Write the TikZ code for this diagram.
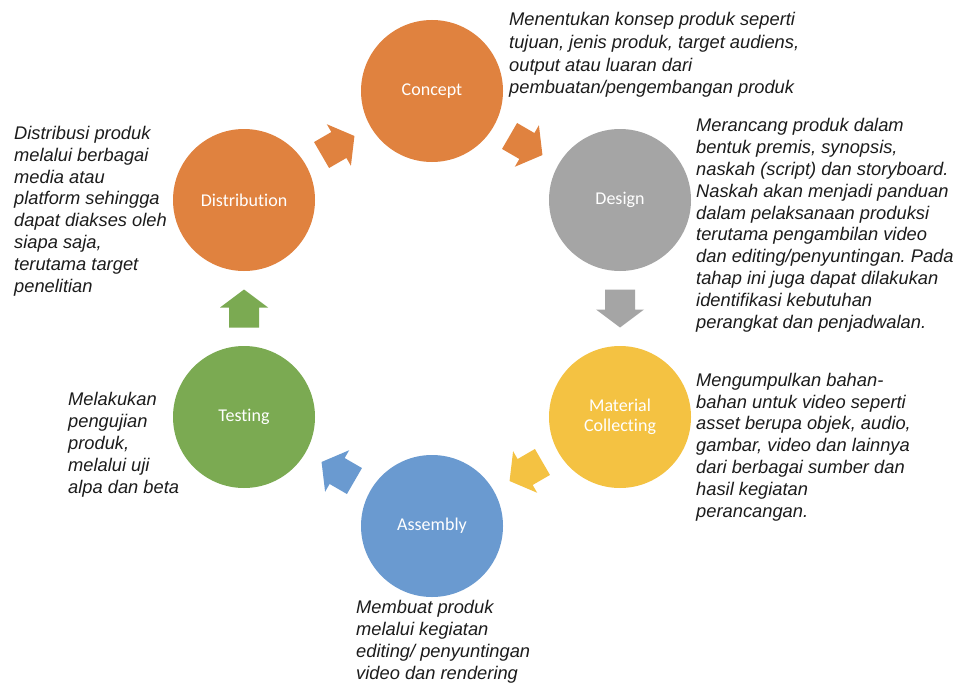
\documentclass[tikz,border=0pt]{standalone}
\usepackage{fontspec}
\setmainfont{Liberation Sans}
\newfontfamily\calibrifont[Ligatures=NoCommon]{Carlito}
\usetikzlibrary{calc}
\definecolor{corange}{HTML}{E0823F}
\definecolor{cgray}{HTML}{A5A5A5}
\definecolor{cyellow}{HTML}{F4C242}
\definecolor{cblue}{HTML}{6A9AD0}
\definecolor{cgreen}{HTML}{7BAA52}
\definecolor{txt}{HTML}{1C1C1C}
\frenchspacing
\begin{document}
\begin{tikzpicture}[x=1pt,y=-1pt,
  stage/.style={circle,minimum size=142pt,inner sep=0pt,text=white,
    font=\calibrifont\fontsize{18}{20}\selectfont,align=center},
  desc/.style={anchor=base west,align=left,inner sep=0pt,text=txt,
    font=\itshape\fontsize{18.3}{21.8}\selectfont},
  blockarrow/.pic={\fill[#1] (-19,-15) -- (1,-15) -- (1,-24) -- (19,0)
    -- (1,24) -- (1,15) -- (-19,15) -- cycle;}
]
\fill[white] (0,0) rectangle (960,682);
\useasboundingbox (0,0) rectangle (960,682);

\node[stage,fill=corange] (concept)  at (432,91)  {Concept};
\node[stage,fill=cgray]   (design)   at (620,200) {Design};
\node[stage,fill=cyellow] (material) at (620,417) {Material\\Collecting};
\node[stage,fill=cblue]   (assembly) at (432,526) {Assembly};
\node[stage,fill=cgreen]  (testing)  at (244,417) {Testing};
\node[stage,fill=corange] (dist)     at (244,200) {Distribution};

\foreach \a/\b/\c in {dist/concept/corange, concept/design/corange,
  design/material/cgray, material/assembly/cyellow,
  assembly/testing/cblue, testing/dist/cgreen}
  \path let \p1=($(\b)-(\a)$), \n1={atan2(\y1,\x1)} in
    ($(\a)!0.5!(\b)$) pic[rotate=\n1] {blockarrow=\c};

% anchors are at the baseline of the last line
\node[desc,font=\itshape\fontsize{18.3}{22.7}\selectfont] (dconcept) at (509,94)
 {Menentukan konsep produk seperti\\
  tujuan, jenis produk, target audiens,\\
  output atau luaran dari\\
  pembuatan/pengembangan produk};
\node[desc] (ddesign) at (696,328) {Merancang produk dalam\\
  bentuk premis, synopsis,\\
  naskah (script) dan storyboard.\\
  Naskah akan menjadi panduan\\
  dalam pelaksanaan produksi\\
  terutama pengambilan video\\
  dan editing/penyuntingan. Pada\\
  tahap ini juga dapat dilakukan\\
  identifikasi kebutuhan\\
  perangkat dan penjadwalan.};
\node[desc] (dmaterial) at (696,517) {Mengumpulkan bahan-\\
  bahan untuk video seperti\\
  asset berupa objek, audio,\\
  gambar, video dan lainnya\\
  dari berbagai sumber dan\\
  hasil kegiatan\\
  perancangan.};
\node[desc] (dassembly) at (356,679) {Membuat produk\\
  melalui kegiatan\\
  editing/ penyuntingan\\
  video dan rendering};
\node[desc] (dtesting) at (68,493) {Melakukan\\
  pengujian\\
  produk,\\
  melalui uji\\
  alpa dan beta};
\node[desc] (ddist) at (14,292) {Distribusi produk\\
  melalui berbagai\\
  media atau\\
  platform sehingga\\
  dapat diakses oleh\\
  siapa saja,\\
  terutama target\\
  penelitian};
\end{tikzpicture}
\end{document}
